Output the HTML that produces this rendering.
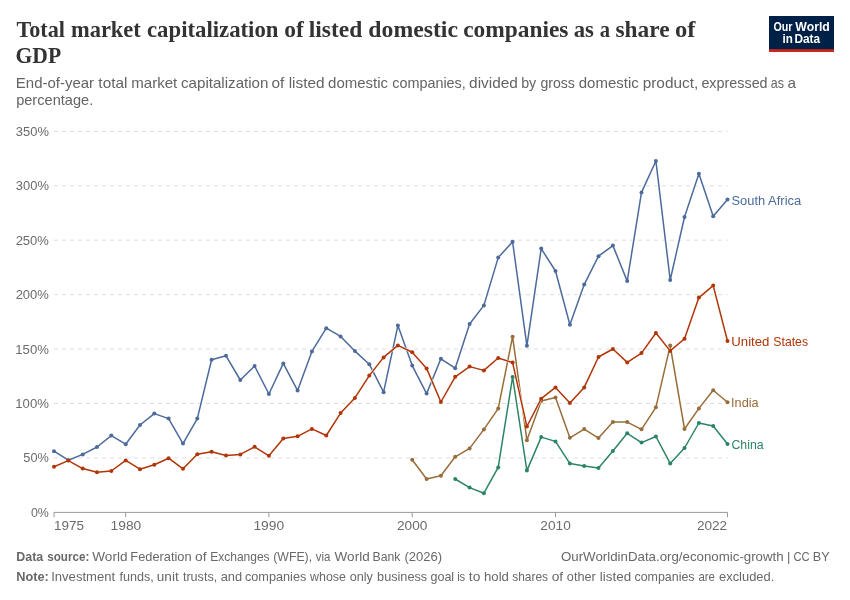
<!DOCTYPE html>
<html lang="en">
<head>
<meta charset="utf-8">
<title>Total market capitalization of listed domestic companies as a share of GDP</title>
<style>
html,body{margin:0;padding:0;background:#fff;}
body{width:850px;height:600px;overflow:hidden;font-family:"Liberation Sans", sans-serif;}
svg{display:block;will-change:transform;}
text{font-family:"Liberation Sans", sans-serif;}
.serif text{font-family:"Liberation Serif", serif;}
</style>
</head>
<body>
<svg width="850" height="600" viewBox="0 0 850 600">
<rect x="0" y="0" width="850" height="600" fill="#ffffff"/>
<g id="title" class="serif" font-size="23.8" font-weight="700" fill="#333333">
<text x="16.47" y="36.7" textLength="48.44" lengthAdjust="spacingAndGlyphs">Total</text>
<text x="70.98" y="36.7" textLength="69.83" lengthAdjust="spacingAndGlyphs">market</text>
<text x="147.00" y="36.7" textLength="131.44" lengthAdjust="spacingAndGlyphs">capitalization</text>
<text x="284.32" y="36.7" textLength="19.56" lengthAdjust="spacingAndGlyphs">of</text>
<text x="308.73" y="36.7" textLength="53.51" lengthAdjust="spacingAndGlyphs">listed</text>
<text x="368.35" y="36.7" textLength="89.63" lengthAdjust="spacingAndGlyphs">domestic</text>
<text x="463.18" y="36.7" textLength="105.31" lengthAdjust="spacingAndGlyphs">companies</text>
<text x="573.66" y="36.7" textLength="20.19" lengthAdjust="spacingAndGlyphs">as</text>
<text x="599.63" y="36.7" textLength="10.28" lengthAdjust="spacingAndGlyphs">a</text>
<text x="615.40" y="36.7" textLength="54.15" lengthAdjust="spacingAndGlyphs">share</text>
<text x="675.08" y="36.7" textLength="20.49" lengthAdjust="spacingAndGlyphs">of</text>
<text x="15.52" y="62.6" textLength="45.59" lengthAdjust="spacingAndGlyphs">GDP</text>
</g>
<g id="subtitle" font-size="14.5" fill="#646464">
<text x="15.86" y="87.7" textLength="78.26" lengthAdjust="spacingAndGlyphs">End-of-year</text>
<text x="98.38" y="87.7" textLength="29.05" lengthAdjust="spacingAndGlyphs">total</text>
<text x="131.28" y="87.7" textLength="46.05" lengthAdjust="spacingAndGlyphs">market</text>
<text x="181.06" y="87.7" textLength="87.35" lengthAdjust="spacingAndGlyphs">capitalization</text>
<text x="271.51" y="87.7" textLength="12.82" lengthAdjust="spacingAndGlyphs">of</text>
<text x="288.69" y="87.7" textLength="35.88" lengthAdjust="spacingAndGlyphs">listed</text>
<text x="328.06" y="87.7" textLength="60.04" lengthAdjust="spacingAndGlyphs">domestic</text>
<text x="392.19" y="87.7" textLength="73.63" lengthAdjust="spacingAndGlyphs">companies,</text>
<text x="469.11" y="87.7" textLength="48.71" lengthAdjust="spacingAndGlyphs">divided</text>
<text x="521.17" y="87.7" textLength="15.08" lengthAdjust="spacingAndGlyphs">by</text>
<text x="540.40" y="87.7" textLength="34.50" lengthAdjust="spacingAndGlyphs">gross</text>
<text x="578.76" y="87.7" textLength="60.04" lengthAdjust="spacingAndGlyphs">domestic</text>
<text x="642.68" y="87.7" textLength="55.54" lengthAdjust="spacingAndGlyphs">product,</text>
<text x="701.39" y="87.7" textLength="66.23" lengthAdjust="spacingAndGlyphs">expressed</text>
<text x="770.83" y="87.7" textLength="13.17" lengthAdjust="spacingAndGlyphs">as</text>
<text x="787.56" y="87.7" textLength="8.55" lengthAdjust="spacingAndGlyphs">a</text>
<text x="16.15" y="105.2" textLength="77.05" lengthAdjust="spacingAndGlyphs">percentage.</text>
</g>
<g id="logo" font-size="12" font-weight="700" fill="#ffffff">
<rect x="769" y="16" width="65" height="36" fill="#002147"/>
<rect x="769" y="49.2" width="65" height="2.8" fill="#ce261e"/>
<text x="773.47" y="30.6" textLength="18.99" lengthAdjust="spacingAndGlyphs">Our</text>
<text x="795.37" y="30.6" textLength="34.45" lengthAdjust="spacingAndGlyphs">World</text>
<text x="782.49" y="42.9" textLength="10.32" lengthAdjust="spacingAndGlyphs">in</text>
<text x="794.40" y="42.9" textLength="25.71" lengthAdjust="spacingAndGlyphs">Data</text>
</g>
<g id="grid" stroke="#dddddd" stroke-width="1" stroke-dasharray="4,4">
<line x1="54" y1="458.0" x2="727.4" y2="458.0"/>
<line x1="54" y1="403.5" x2="727.4" y2="403.5"/>
<line x1="54" y1="349.1" x2="727.4" y2="349.1"/>
<line x1="54" y1="294.7" x2="727.4" y2="294.7"/>
<line x1="54" y1="240.2" x2="727.4" y2="240.2"/>
<line x1="54" y1="185.8" x2="727.4" y2="185.8"/>
<line x1="54" y1="131.4" x2="727.4" y2="131.4"/>
</g>
<g id="ylabels" font-size="13" fill="#6b6b6b">
<text x="30.90" y="516.8" textLength="17.97" lengthAdjust="spacingAndGlyphs">0%</text>
<text x="23.29" y="462.4" textLength="25.58" lengthAdjust="spacingAndGlyphs">50%</text>
<text x="15.32" y="407.9" textLength="33.58" lengthAdjust="spacingAndGlyphs">100%</text>
<text x="15.32" y="353.5" textLength="33.58" lengthAdjust="spacingAndGlyphs">150%</text>
<text x="15.65" y="299.1" textLength="33.24" lengthAdjust="spacingAndGlyphs">200%</text>
<text x="15.65" y="244.7" textLength="33.24" lengthAdjust="spacingAndGlyphs">250%</text>
<text x="15.82" y="190.2" textLength="33.07" lengthAdjust="spacingAndGlyphs">300%</text>
<text x="15.82" y="135.8" textLength="33.07" lengthAdjust="spacingAndGlyphs">350%</text>
</g>
<g id="xaxis" stroke="#999999" stroke-width="1">
<line x1="54" y1="512.4" x2="727.4" y2="512.4"/>
<line x1="54.0" y1="512.4" x2="54.0" y2="517.1999999999999"/>
<line x1="125.7" y1="512.4" x2="125.7" y2="517.1999999999999"/>
<line x1="268.9" y1="512.4" x2="268.9" y2="517.1999999999999"/>
<line x1="412.2" y1="512.4" x2="412.2" y2="517.1999999999999"/>
<line x1="555.5" y1="512.4" x2="555.5" y2="517.1999999999999"/>
<line x1="727.5" y1="512.4" x2="727.5" y2="517.1999999999999"/>
</g>
<g id="xlabels" font-size="13" fill="#6b6b6b">
<text x="54.09" y="530.4" textLength="29.87" lengthAdjust="spacingAndGlyphs">1975</text>
<text x="110.63" y="530.4" textLength="30.66" lengthAdjust="spacingAndGlyphs">1980</text>
<text x="253.43" y="530.4" textLength="30.66" lengthAdjust="spacingAndGlyphs">1990</text>
<text x="397.02" y="530.4" textLength="30.43" lengthAdjust="spacingAndGlyphs">2000</text>
<text x="540.32" y="530.4" textLength="30.43" lengthAdjust="spacingAndGlyphs">2010</text>
<text x="696.92" y="530.4" textLength="30.19" lengthAdjust="spacingAndGlyphs">2022</text>
</g>
<g id="lines" fill="none" stroke-width="1.5" stroke-linejoin="round">
<polyline points="54.0,451.2 68.3,460.2 82.7,454.4 97.0,447 111.3,435.6 125.7,444.2 140.0,425 154.3,413.6 168.6,418.6 183.0,443.6 197.3,418.6 211.6,359.8 226.0,355.8 240.3,380 254.6,366 268.9,394 283.3,363.4 297.6,390.6 311.9,351.4 326.3,328.2 340.6,336.4 354.9,351.1 369.3,364.2 383.6,392.2 397.9,325.6 412.2,365.6 426.6,393.6 440.9,358.8 455.2,368.2 469.6,324 483.9,305.4 498.2,257.6 512.6,241.8 526.9,345.8 541.2,248.6 555.5,271 569.9,324.8 584.2,284.6 598.5,256.2 612.9,245.6 627.2,281.1 641.5,192.4 655.9,161 670.2,280 684.5,217 698.9,173.8 713.2,216.2 727.5,199.4" stroke="#ffffff" stroke-width="2.5"/>
<polyline points="54.0,451.2 68.3,460.2 82.7,454.4 97.0,447 111.3,435.6 125.7,444.2 140.0,425 154.3,413.6 168.6,418.6 183.0,443.6 197.3,418.6 211.6,359.8 226.0,355.8 240.3,380 254.6,366 268.9,394 283.3,363.4 297.6,390.6 311.9,351.4 326.3,328.2 340.6,336.4 354.9,351.1 369.3,364.2 383.6,392.2 397.9,325.6 412.2,365.6 426.6,393.6 440.9,358.8 455.2,368.2 469.6,324 483.9,305.4 498.2,257.6 512.6,241.8 526.9,345.8 541.2,248.6 555.5,271 569.9,324.8 584.2,284.6 598.5,256.2 612.9,245.6 627.2,281.1 641.5,192.4 655.9,161 670.2,280 684.5,217 698.9,173.8 713.2,216.2 727.5,199.4" stroke="#4C6A9C"/>
<g fill="#4C6A9C" stroke="none"><circle cx="54.0" cy="451.2" r="2"/><circle cx="68.3" cy="460.2" r="2"/><circle cx="82.7" cy="454.4" r="2"/><circle cx="97.0" cy="447" r="2"/><circle cx="111.3" cy="435.6" r="2"/><circle cx="125.7" cy="444.2" r="2"/><circle cx="140.0" cy="425" r="2"/><circle cx="154.3" cy="413.6" r="2"/><circle cx="168.6" cy="418.6" r="2"/><circle cx="183.0" cy="443.6" r="2"/><circle cx="197.3" cy="418.6" r="2"/><circle cx="211.6" cy="359.8" r="2"/><circle cx="226.0" cy="355.8" r="2"/><circle cx="240.3" cy="380" r="2"/><circle cx="254.6" cy="366" r="2"/><circle cx="268.9" cy="394" r="2"/><circle cx="283.3" cy="363.4" r="2"/><circle cx="297.6" cy="390.6" r="2"/><circle cx="311.9" cy="351.4" r="2"/><circle cx="326.3" cy="328.2" r="2"/><circle cx="340.6" cy="336.4" r="2"/><circle cx="354.9" cy="351.1" r="2"/><circle cx="369.3" cy="364.2" r="2"/><circle cx="383.6" cy="392.2" r="2"/><circle cx="397.9" cy="325.6" r="2"/><circle cx="412.2" cy="365.6" r="2"/><circle cx="426.6" cy="393.6" r="2"/><circle cx="440.9" cy="358.8" r="2"/><circle cx="455.2" cy="368.2" r="2"/><circle cx="469.6" cy="324" r="2"/><circle cx="483.9" cy="305.4" r="2"/><circle cx="498.2" cy="257.6" r="2"/><circle cx="512.6" cy="241.8" r="2"/><circle cx="526.9" cy="345.8" r="2"/><circle cx="541.2" cy="248.6" r="2"/><circle cx="555.5" cy="271" r="2"/><circle cx="569.9" cy="324.8" r="2"/><circle cx="584.2" cy="284.6" r="2"/><circle cx="598.5" cy="256.2" r="2"/><circle cx="612.9" cy="245.6" r="2"/><circle cx="627.2" cy="281.1" r="2"/><circle cx="641.5" cy="192.4" r="2"/><circle cx="655.9" cy="161" r="2"/><circle cx="670.2" cy="280" r="2"/><circle cx="684.5" cy="217" r="2"/><circle cx="698.9" cy="173.8" r="2"/><circle cx="713.2" cy="216.2" r="2"/><circle cx="727.5" cy="199.4" r="2"/></g>
<polyline points="412.2,459.8 426.6,479 440.9,475.8 455.2,456.8 469.6,448.4 483.9,429.4 498.2,408.6 512.6,336.7 526.9,440.2 541.2,401 555.5,397.6 569.9,437.8 584.2,429.1 598.5,438.1 612.9,422.1 627.2,422.1 641.5,429.3 655.9,407.3 670.2,345.6 684.5,429 698.9,408.4 713.2,390.2 727.5,402.2" stroke="#ffffff" stroke-width="2.5"/>
<polyline points="412.2,459.8 426.6,479 440.9,475.8 455.2,456.8 469.6,448.4 483.9,429.4 498.2,408.6 512.6,336.7 526.9,440.2 541.2,401 555.5,397.6 569.9,437.8 584.2,429.1 598.5,438.1 612.9,422.1 627.2,422.1 641.5,429.3 655.9,407.3 670.2,345.6 684.5,429 698.9,408.4 713.2,390.2 727.5,402.2" stroke="#996D39"/>
<g fill="#996D39" stroke="none"><circle cx="412.2" cy="459.8" r="2"/><circle cx="426.6" cy="479" r="2"/><circle cx="440.9" cy="475.8" r="2"/><circle cx="455.2" cy="456.8" r="2"/><circle cx="469.6" cy="448.4" r="2"/><circle cx="483.9" cy="429.4" r="2"/><circle cx="498.2" cy="408.6" r="2"/><circle cx="512.6" cy="336.7" r="2"/><circle cx="526.9" cy="440.2" r="2"/><circle cx="541.2" cy="401" r="2"/><circle cx="555.5" cy="397.6" r="2"/><circle cx="569.9" cy="437.8" r="2"/><circle cx="584.2" cy="429.1" r="2"/><circle cx="598.5" cy="438.1" r="2"/><circle cx="612.9" cy="422.1" r="2"/><circle cx="627.2" cy="422.1" r="2"/><circle cx="641.5" cy="429.3" r="2"/><circle cx="655.9" cy="407.3" r="2"/><circle cx="670.2" cy="345.6" r="2"/><circle cx="684.5" cy="429" r="2"/><circle cx="698.9" cy="408.4" r="2"/><circle cx="713.2" cy="390.2" r="2"/><circle cx="727.5" cy="402.2" r="2"/></g>
<polyline points="54.0,466.8 68.3,460.6 82.7,468.6 97.0,472.2 111.3,471 125.7,460.4 140.0,469.2 154.3,464.8 168.6,458.2 183.0,468.8 197.3,454.3 211.6,451.8 226.0,455.6 240.3,454.4 254.6,446.8 268.9,455.8 283.3,438.5 297.6,436.3 311.9,428.9 326.3,435.5 340.6,413.1 354.9,397.9 369.3,375.6 383.6,357.4 397.9,345.4 412.2,352.2 426.6,368.4 440.9,402 455.2,376.8 469.6,366.6 483.9,370.4 498.2,358 512.6,362.6 526.9,426.5 541.2,398.7 555.5,387.4 569.9,403 584.2,387.4 598.5,357 612.9,349 627.2,362.4 641.5,353.1 655.9,333 670.2,350.9 684.5,338.8 698.9,297.6 713.2,285.6 727.5,341" stroke="#ffffff" stroke-width="2.5"/>
<polyline points="54.0,466.8 68.3,460.6 82.7,468.6 97.0,472.2 111.3,471 125.7,460.4 140.0,469.2 154.3,464.8 168.6,458.2 183.0,468.8 197.3,454.3 211.6,451.8 226.0,455.6 240.3,454.4 254.6,446.8 268.9,455.8 283.3,438.5 297.6,436.3 311.9,428.9 326.3,435.5 340.6,413.1 354.9,397.9 369.3,375.6 383.6,357.4 397.9,345.4 412.2,352.2 426.6,368.4 440.9,402 455.2,376.8 469.6,366.6 483.9,370.4 498.2,358 512.6,362.6 526.9,426.5 541.2,398.7 555.5,387.4 569.9,403 584.2,387.4 598.5,357 612.9,349 627.2,362.4 641.5,353.1 655.9,333 670.2,350.9 684.5,338.8 698.9,297.6 713.2,285.6 727.5,341" stroke="#B13507"/>
<g fill="#B13507" stroke="none"><circle cx="54.0" cy="466.8" r="2"/><circle cx="68.3" cy="460.6" r="2"/><circle cx="82.7" cy="468.6" r="2"/><circle cx="97.0" cy="472.2" r="2"/><circle cx="111.3" cy="471" r="2"/><circle cx="125.7" cy="460.4" r="2"/><circle cx="140.0" cy="469.2" r="2"/><circle cx="154.3" cy="464.8" r="2"/><circle cx="168.6" cy="458.2" r="2"/><circle cx="183.0" cy="468.8" r="2"/><circle cx="197.3" cy="454.3" r="2"/><circle cx="211.6" cy="451.8" r="2"/><circle cx="226.0" cy="455.6" r="2"/><circle cx="240.3" cy="454.4" r="2"/><circle cx="254.6" cy="446.8" r="2"/><circle cx="268.9" cy="455.8" r="2"/><circle cx="283.3" cy="438.5" r="2"/><circle cx="297.6" cy="436.3" r="2"/><circle cx="311.9" cy="428.9" r="2"/><circle cx="326.3" cy="435.5" r="2"/><circle cx="340.6" cy="413.1" r="2"/><circle cx="354.9" cy="397.9" r="2"/><circle cx="369.3" cy="375.6" r="2"/><circle cx="383.6" cy="357.4" r="2"/><circle cx="397.9" cy="345.4" r="2"/><circle cx="412.2" cy="352.2" r="2"/><circle cx="426.6" cy="368.4" r="2"/><circle cx="440.9" cy="402" r="2"/><circle cx="455.2" cy="376.8" r="2"/><circle cx="469.6" cy="366.6" r="2"/><circle cx="483.9" cy="370.4" r="2"/><circle cx="498.2" cy="358" r="2"/><circle cx="512.6" cy="362.6" r="2"/><circle cx="526.9" cy="426.5" r="2"/><circle cx="541.2" cy="398.7" r="2"/><circle cx="555.5" cy="387.4" r="2"/><circle cx="569.9" cy="403" r="2"/><circle cx="584.2" cy="387.4" r="2"/><circle cx="598.5" cy="357" r="2"/><circle cx="612.9" cy="349" r="2"/><circle cx="627.2" cy="362.4" r="2"/><circle cx="641.5" cy="353.1" r="2"/><circle cx="655.9" cy="333" r="2"/><circle cx="670.2" cy="350.9" r="2"/><circle cx="684.5" cy="338.8" r="2"/><circle cx="698.9" cy="297.6" r="2"/><circle cx="713.2" cy="285.6" r="2"/><circle cx="727.5" cy="341" r="2"/></g>
<polyline points="455.2,479 469.6,487.6 483.9,493.2 498.2,467.4 512.6,377 526.9,470.6 541.2,437.1 555.5,441.4 569.9,463.6 584.2,466 598.5,468 612.9,451 627.2,433.3 641.5,442.6 655.9,436.5 670.2,463.4 684.5,448 698.9,423 713.2,426 727.5,444" stroke="#ffffff" stroke-width="2.5"/>
<polyline points="455.2,479 469.6,487.6 483.9,493.2 498.2,467.4 512.6,377 526.9,470.6 541.2,437.1 555.5,441.4 569.9,463.6 584.2,466 598.5,468 612.9,451 627.2,433.3 641.5,442.6 655.9,436.5 670.2,463.4 684.5,448 698.9,423 713.2,426 727.5,444" stroke="#2C8465"/>
<g fill="#2C8465" stroke="none"><circle cx="455.2" cy="479" r="2"/><circle cx="469.6" cy="487.6" r="2"/><circle cx="483.9" cy="493.2" r="2"/><circle cx="498.2" cy="467.4" r="2"/><circle cx="512.6" cy="377" r="2"/><circle cx="526.9" cy="470.6" r="2"/><circle cx="541.2" cy="437.1" r="2"/><circle cx="555.5" cy="441.4" r="2"/><circle cx="569.9" cy="463.6" r="2"/><circle cx="584.2" cy="466" r="2"/><circle cx="598.5" cy="468" r="2"/><circle cx="612.9" cy="451" r="2"/><circle cx="627.2" cy="433.3" r="2"/><circle cx="641.5" cy="442.6" r="2"/><circle cx="655.9" cy="436.5" r="2"/><circle cx="670.2" cy="463.4" r="2"/><circle cx="684.5" cy="448" r="2"/><circle cx="698.9" cy="423" r="2"/><circle cx="713.2" cy="426" r="2"/><circle cx="727.5" cy="444" r="2"/></g>
</g>
<g id="labels" font-size="13">
<text x="731.52" y="204.5" textLength="33.63" lengthAdjust="spacingAndGlyphs" fill="#4C6A9C">South</text>
<text x="768.07" y="204.5" textLength="33.25" lengthAdjust="spacingAndGlyphs" fill="#4C6A9C">Africa</text>
<text x="731.28" y="345.6" textLength="38.16" lengthAdjust="spacingAndGlyphs" fill="#B13507">United</text>
<text x="773.35" y="345.6" textLength="34.68" lengthAdjust="spacingAndGlyphs" fill="#B13507">States</text>
<text x="731.02" y="406.8" textLength="27.69" lengthAdjust="spacingAndGlyphs" fill="#996D39">India</text>
<text x="731.49" y="448.7" textLength="32.12" lengthAdjust="spacingAndGlyphs" fill="#2C8465">China</text>
</g>
<g id="footer" font-size="13" fill="#686868">
<g font-weight="700">
<text x="16.26" y="560.8" textLength="26.95" lengthAdjust="spacingAndGlyphs">Data</text>
<text x="47.19" y="560.8" textLength="42.11" lengthAdjust="spacingAndGlyphs">source:</text>
<text x="16.24" y="581" textLength="32.57" lengthAdjust="spacingAndGlyphs">Note:</text>
</g>
<text x="92.33" y="560.8" textLength="35.13" lengthAdjust="spacingAndGlyphs">World</text>
<text x="130.34" y="560.8" textLength="61.20" lengthAdjust="spacingAndGlyphs">Federation</text>
<text x="195.10" y="560.8" textLength="11.49" lengthAdjust="spacingAndGlyphs">of</text>
<text x="210.21" y="560.8" textLength="59.42" lengthAdjust="spacingAndGlyphs">Exchanges</text>
<text x="273.23" y="560.8" textLength="38.88" lengthAdjust="spacingAndGlyphs">(WFE),</text>
<text x="315.74" y="560.8" textLength="14.67" lengthAdjust="spacingAndGlyphs">via</text>
<text x="334.63" y="560.8" textLength="35.02" lengthAdjust="spacingAndGlyphs">World</text>
<text x="372.59" y="560.8" textLength="27.90" lengthAdjust="spacingAndGlyphs">Bank</text>
<text x="404.49" y="560.8" textLength="37.64" lengthAdjust="spacingAndGlyphs">(2026)</text>
<text x="560.97" y="560.8" textLength="222.72" lengthAdjust="spacingAndGlyphs">OurWorldinData.org/economic-growth</text>
<text x="786.91" y="560.8" textLength="3.38" lengthAdjust="spacingAndGlyphs">|</text>
<text x="793.42" y="560.8" textLength="16.15" lengthAdjust="spacingAndGlyphs">CC</text>
<text x="812.85" y="560.8" textLength="16.92" lengthAdjust="spacingAndGlyphs">BY</text>
<text x="51.19" y="581" textLength="63.92" lengthAdjust="spacingAndGlyphs">Investment</text>
<text x="119.41" y="581" textLength="34.31" lengthAdjust="spacingAndGlyphs">funds,</text>
<text x="156.82" y="581" textLength="21.88" lengthAdjust="spacingAndGlyphs">unit</text>
<text x="182.91" y="581" textLength="34.33" lengthAdjust="spacingAndGlyphs">trusts,</text>
<text x="220.65" y="581" textLength="21.46" lengthAdjust="spacingAndGlyphs">and</text>
<text x="244.96" y="581" textLength="61.40" lengthAdjust="spacingAndGlyphs">companies</text>
<text x="310.10" y="581" textLength="35.84" lengthAdjust="spacingAndGlyphs">whose</text>
<text x="349.66" y="581" textLength="23.16" lengthAdjust="spacingAndGlyphs">only</text>
<text x="377.08" y="581" textLength="50.06" lengthAdjust="spacingAndGlyphs">business</text>
<text x="430.47" y="581" textLength="23.69" lengthAdjust="spacingAndGlyphs">goal</text>
<text x="457.13" y="581" textLength="8.07" lengthAdjust="spacingAndGlyphs">is</text>
<text x="468.89" y="581" textLength="11.49" lengthAdjust="spacingAndGlyphs">to</text>
<text x="483.98" y="581" textLength="24.96" lengthAdjust="spacingAndGlyphs">hold</text>
<text x="512.27" y="581" textLength="35.73" lengthAdjust="spacingAndGlyphs">shares</text>
<text x="551.70" y="581" textLength="11.49" lengthAdjust="spacingAndGlyphs">of</text>
<text x="566.86" y="581" textLength="28.92" lengthAdjust="spacingAndGlyphs">other</text>
<text x="599.79" y="581" textLength="31.37" lengthAdjust="spacingAndGlyphs">listed</text>
<text x="634.47" y="581" textLength="60.08" lengthAdjust="spacingAndGlyphs">companies</text>
<text x="698.41" y="581" textLength="16.58" lengthAdjust="spacingAndGlyphs">are</text>
<text x="719.05" y="581" textLength="55.22" lengthAdjust="spacingAndGlyphs">excluded.</text>
</g>
</svg>
</body>
</html>
